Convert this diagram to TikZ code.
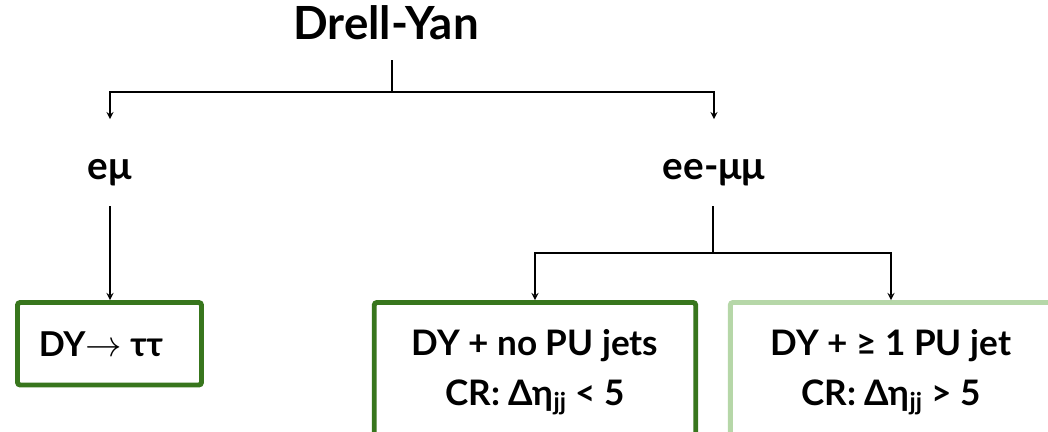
\documentclass[tikz,border=0pt]{standalone}
\usepackage{fontspec}
\setmainfont{Lato}
\usepackage{xcolor}
\usetikzlibrary{arrows, positioning, calc}
\definecolor{dkgreen}{RGB}{56, 118, 29}
\definecolor{ltgreen}{RGB}{182, 215, 168}

\begin{document}
\begin{tikzpicture}[x=0.02cm, y=-0.02cm, >=stealth,
    conn/.style={line width=0.8pt, black},
    lbl/.style={anchor=base, inner sep=2pt, font=\bfseries\fontsize{22}{26}\selectfont},
    crbox/.style={draw, line width=2.8pt, rounded corners=1.5pt, fill=white,
                  align=center, inner sep=2pt, font=\bfseries\fontsize{20}{28}\selectfont}]
    \useasboundingbox (0,0) rectangle (1048,432);

    % Top of the tree and the two lepton channels
    \node[lbl, font=\bfseries\fontsize{26}{30}\selectfont] (dy) at (386,40) {Drell-Yan};
    \node[lbl] (emu) at (110,180) {eμ};
    \node[lbl] (eemm) at (714,180) {ee-μμ};

    % Control regions (boxes)
    \node[crbox, draw=dkgreen, minimum width=3.68cm, minimum height=1.65cm,
          font=\bfseries\fontsize{19.5}{24}\selectfont] (dytt) at (109.5,343.75) {DY$\rightarrow$ ττ\hspace{0.5em}};
    \node[crbox, draw=dkgreen, minimum width=6.43cm, minimum height=2.8cm] (nopu) at (535,372.5)
        {DY + no PU jets\\CR: Δη\textsubscript{jj} < 5};
    \node[crbox, draw=ltgreen, minimum width=6.43cm, minimum height=2.8cm] (onepu) at (891,372.5)
        {DY + ≥ 1 PU jet\\CR: Δη\textsubscript{jj} > 5};

    % Branching points
    \coordinate (split1) at (392,92);
    \coordinate (split2) at (713,253);

    % Connectors
    \draw[conn, shorten <=9pt] (dy.south -| split1) -- (split1);
    \draw[conn, ->, shorten >=21pt] (split1) -| (emu.north);
    \draw[conn, ->, shorten >=21pt] (split1) -| (eemm.north);
    \draw[conn, ->, shorten <=9pt] (emu.south) -- (emu.south |- dytt.north);
    \draw[conn, shorten <=9pt] (eemm.south -| split2) -- (split2);
    \draw[conn, ->] (split2) -| (nopu.north);
    \draw[conn, ->] (split2) -| (onepu.north);
\end{tikzpicture}
\end{document}
